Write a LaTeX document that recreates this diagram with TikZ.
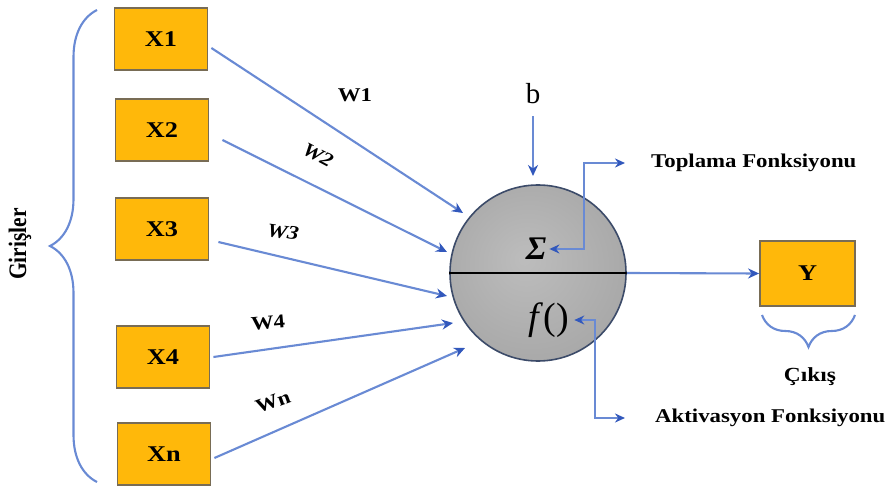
\documentclass[tikz,border=0pt]{standalone}
\usepackage{fontspec}
\setmainfont{Liberation Serif}
\usepackage{graphicx}
\usetikzlibrary{arrows.meta,decorations.pathreplacing,calc}
\definecolor{lineblue}{RGB}{105,138,212}
\definecolor{tipblue}{RGB}{50,88,188}
\definecolor{boxfill}{RGB}{255,184,10}
\definecolor{boxedge}{RGB}{120,108,85}
\definecolor{rimcol}{RGB}{60,75,105}
\newcommand{\hs}[1]{\scalebox{1.17}[1]{#1}}
\pgfdeclareradialshading{neuronshade}{\pgfpoint{-4bp}{4bp}}{color(0bp)=(gray!52); color(28bp)=(gray!68); color(50bp)=(gray!105)}
\begin{document}
\begin{tikzpicture}[x=1pt,y=-1pt,
  inbox/.style={draw=boxedge,line width=1.8pt,fill=boxfill,minimum width=93pt,minimum height=62pt,inner sep=0pt,font=\fontsize{22.5}{24}\selectfont\bfseries},
  conn/.style={draw=lineblue,line width=2.1pt,-{Stealth[length=11pt,width=10pt,color=tipblue]}},
  dbl/.style={draw=lineblue,line width=2.1pt,{Stealth[length=10pt,width=9pt,color=tipblue]}-{Stealth[length=10pt,width=9pt,color=tipblue]}},
  lbl/.style={inner sep=0pt,font=\fontsize{19.5}{22}\selectfont\bfseries},
  brc/.style={draw=lineblue,line width=2.1pt,decorate}]
\useasboundingbox (0,0) rectangle (892,489);
\fill[white] (0,0) rectangle (892,489);

% input boxes
\node[inbox] (x1) at (161,39) {\hs{X1}};
\node[inbox] (x2) at (162,130) {\hs{X2}};
\node[inbox] (x3) at (162,229) {\hs{X3}};
\node[inbox] (x4) at (163,357) {\hs{X4}};
\node[inbox] (xn) at (164,454) {\hs{Xn}};
\node[inbox,minimum width=95pt,minimum height=65pt] (y) at (807.5,273.5) {\hs{Y}};

% neuron
\node[circle,draw=rimcol,line width=1.6pt,minimum size=176pt,inner sep=0pt,shading=neuronshade] (neuron) at (538,273) {};
\draw[black,line width=1.3pt] (neuron.west) -- (neuron.east);
\node[font=\fontsize{33}{35}\selectfont\bfseries\itshape,inner sep=1pt] (sig) at (536,249) {Σ};
\node[font=\fontsize{38}{40}\selectfont,inner sep=1pt] (fx) at (549,320) {\textit{f}()};

% arrow tips at the neuron
\coordinate (t1) at (463,213);
\coordinate (t2) at (447,252);
\coordinate (t3) at (447,296);
\coordinate (t4) at (453,323);
\coordinate (t5) at (465,348);
\draw[conn] ([shift={(3,9)}]x1.east) -- (t1);
\draw[conn] ([shift={(13,10)}]x2.east) -- (t2);
\draw[conn] ([shift={(9,13)}]x3.east) -- (t3);
\draw[conn] ([shift={(3,0)}]x4.east) -- (t4);
\draw[conn] ([shift={(3,4)}]xn.east) -- (t5);

% weights
\node[lbl] (w1) at (355,95) {\hs{W1}};
\node[lbl,rotate=-28] (w2) at (318,155) {\hs{\textit{W2}}};
\node[lbl,rotate=-8] (w3) at (283,232) {\hs{\textit{W3}}};
\node[lbl,rotate=5] (w4) at (268,323) {\hs{W4}};
\node[lbl,rotate=20] (wn) at (273,402) {\hs{Wn}};

% bias
\node[font=\fontsize{29}{31}\selectfont,inner sep=0pt] (b) at (533,94) {b};
\coordinate (bt) at (533,176);
\draw[conn] ([yshift=-12pt]b.south) -- (bt);

% function labels
\node[lbl,anchor=west] (toplama) at (651,163) {\hs{Toplama Fonksiyonu}};
\node[lbl,anchor=west] (aktiv) at (655,418) {\hs{Aktivasyon Fonksiyonu}};
\coordinate (tp) at (625,163);
\coordinate (ak) at (625,418);
\draw[dbl] ([xshift=2pt]sig.east) -- ++(35,0) |- (tp);
\draw[dbl] ([xshift=4pt]fx.east) -- ++(21,0) |- (ak);

% output
\draw[conn] (neuron.east) -- (y.west);
\draw[brc,decoration={brace,amplitude=32pt}] (855,315) -- (762,315);
\node[lbl,font=\fontsize{20}{22}\selectfont\bfseries] (cikis) at (810,377) {\hs{Çıkış}};

% inputs brace
\draw[brc,decoration={brace,amplitude=47pt}] (97,482) -- (97,10);
\node[font=\fontsize{21.5}{23}\selectfont\bfseries,rotate=90,inner sep=0pt] (gir) at (20,244) {\scalebox{1}[1.17]{Girişler}};
\end{tikzpicture}
\end{document}
